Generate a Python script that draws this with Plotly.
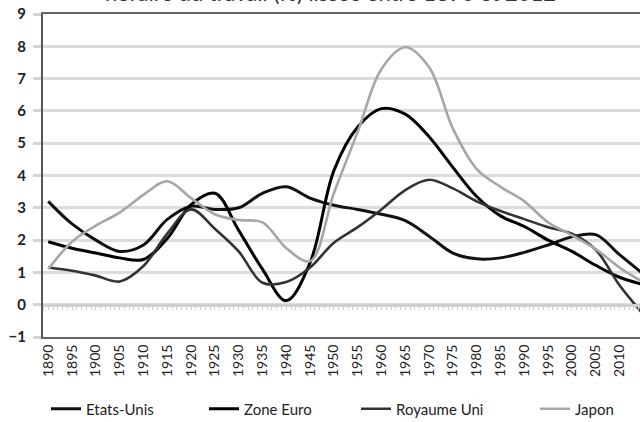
import plotly.graph_objects as go

# ---- data ----
years = [1890, 1895, 1900, 1905, 1910, 1915, 1920, 1925, 1930, 1935, 1940, 1945,
         1950, 1955, 1960, 1965, 1970, 1975, 1980, 1985, 1990, 1995, 2000, 2005,
         2010, 2015]
tick_years = [1890, 1895, 1900, 1905, 1910, 1915, 1920, 1925, 1930, 1935, 1940,
              1945, 1950, 1955, 1960, 1965, 1970, 1975, 1980, 1985, 1990, 1995,
              2000, 2005, 2010]
tick_labels = [str(y) for y in tick_years]

etats_unis = [3.2, 2.5, 2.0, 1.65, 1.85, 2.64, 3.05, 2.95, 3.0, 3.45, 3.65, 3.3,
              3.08, 2.95, 2.8, 2.6, 2.12, 1.6, 1.42, 1.45, 1.62, 1.85, 2.1, 2.17,
              1.55, 0.95]
zone_euro = [1.95, 1.75, 1.6, 1.45, 1.4, 2.05, 3.1, 3.45, 2.3, 1.1, 0.12, 1.3,
             4.15, 5.5, 6.07, 5.9, 5.2, 4.25, 3.35, 2.75, 2.42, 2.0, 1.65, 1.22,
             0.85, 0.62]
royaume_uni = [1.15, 1.05, 0.9, 0.72, 1.2, 2.2, 2.95, 2.35, 1.65, 0.68, 0.7, 1.15,
               1.92, 2.4, 2.95, 3.55, 3.87, 3.6, 3.2, 2.9, 2.65, 2.4, 2.2, 1.7,
               0.6, -0.3]
japon = [1.1, 1.95, 2.45, 2.85, 3.4, 3.82, 3.3, 2.8, 2.62, 2.55, 1.75, 1.35,
         3.45, 5.35, 7.3, 7.97, 7.35, 5.45, 4.2, 3.65, 3.2, 2.55, 2.15, 1.72,
         1.15, 0.7]

series = [
    ("Etats-Unis", etats_unis, "#111111", 3.0, "legend"),
    ("Zone Euro", zone_euro, "#000000", 3.0, "legend2"),
    ("Royaume Uni", royaume_uni, "#333333", 2.6, "legend3"),
    ("Japon", japon, "#a6a6a6", 2.6, "legend4"),
]

FONT = "Lato, 'Open Sans', sans-serif"

fig = go.Figure()
for name, vals, color, width, leg in series:
    fig.add_trace(go.Scatter(
        x=years, y=vals, mode="lines", name=name,
        line=dict(color=color, width=width, shape="spline", smoothing=1.0),
        legend=leg,
    ))

# secondary x axis drawn along the zero line (minor yearly ticks)
fig.add_trace(go.Scatter(x=[years[0]], y=[0], xaxis="x2", mode="lines",
                         showlegend=False, hoverinfo="skip",
                         line=dict(color="rgba(0,0,0,0)")))

xr = [1888.9, 2014.3]
legend_common = dict(orientation="h", yanchor="middle", yref="container",
                     y=13 / 422, xref="container", xanchor="left",
                     font=dict(family=FONT, size=15, color="#222"),
                     bgcolor="rgba(0,0,0,0)", itemwidth=30)

fig.update_layout(
    width=640, height=422,
    margin=dict(l=43, r=0, t=14, b=85),
    paper_bgcolor="white", plot_bgcolor="white",
    font=dict(family=FONT, color="#222"),
    xaxis=dict(
        range=xr, tickmode="array", tickvals=tick_years, ticktext=tick_labels,
        tickangle=-90, tickfont=dict(family=FONT, size=14, color="#222"),
        showgrid=False, zeroline=False, showline=True, linecolor="#666",
        linewidth=2, mirror=True, ticks="",
    ),
    xaxis2=dict(
        range=xr, overlaying="x", anchor="free", position=0.1, side="bottom",
        showline=True, linecolor="#cfcfcf", linewidth=2.5,
        ticks="outside", ticklen=4, tickwidth=1, tickcolor="#d0d0d0",
        tickmode="linear", tick0=1890, dtick=1, showticklabels=False,
        showgrid=False, zeroline=False,
    ),
    yaxis=dict(
        range=[-1, 9], tickmode="linear", tick0=-1, dtick=1,
        tickfont=dict(family=FONT, size=15, color="#222", weight="bold"),
        showgrid=True, gridcolor="#dcdcdc", gridwidth=2.5,
        zeroline=False, showline=True, linecolor="#555", linewidth=2,
        ticks="outside", ticklen=8, tickwidth=2.5, tickcolor="#d5d5d5",
        ticklabelstandoff=4,
    ),
    legend=dict(legend_common, x=46 / 640),
    legend2=dict(legend_common, x=204 / 640),
    legend3=dict(legend_common, x=356 / 640),
    legend4=dict(legend_common, x=535 / 640),
    annotations=[dict(
        text="Croissance de la productivité<br>horaire du travail (%) lissée entre 1890 et 2012",
        xref="paper", yref="paper", x=0.4816, y=1.018, xanchor="center",
        yanchor="bottom", showarrow=False,
        font=dict(family=FONT, size=22, color="#333"),
    )],
)

fig.write_html("out.html")
